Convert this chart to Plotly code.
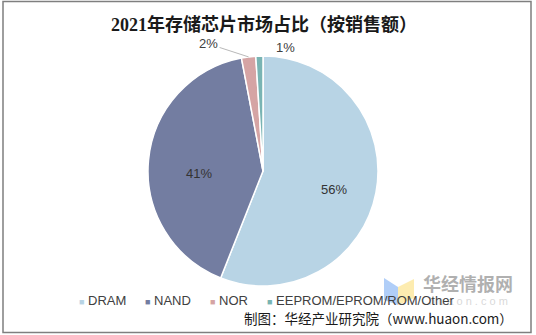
import math
import plotly.graph_objects as go

# ---- data ----
categories = ["DRAM", "NAND", "NOR", "EEPROM/EPROM/ROM/Other"]
shares = [56, 41, 2, 1]
colors = ["#B8D4E5", "#737DA1", "#D5A4A4", "#79B4B3"]
title_text = "2021年存储芯片市场占比（按销售额）"
source_text = "制图：华经产业研究院（www.huaon.com）"

W, H = 536, 335
cx, cy, r = 263, 171, 115  # pie centre/radius in px (from top-left)


def px(x, y):
    return x / W, 1 - y / H


fig = go.Figure()
total = sum(shares)
fig.add_trace(go.Pie(
    labels=categories,
    values=shares,
    sort=False,
    direction="clockwise",
    rotation=0,
    marker=dict(colors=colors, line=dict(color="white", width=1.5)),
    textinfo="none",
    domain=dict(x=[(cx - r) / W, (cx + r) / W], y=[1 - (cy + r) / H, 1 - (cy - r) / H]),
    showlegend=False,
    hoverinfo="label+percent",
))

annotations = []
shapes = []

# slice labels placed from the data (mid-angle of each slice)
# (radial fraction, angle tweak in degrees, text dx, text dy, leader line)
placement = [
    (0.64, 4, 0, 0, False),
    (0.56, -8, 0, 0, False),
    (1.0, 0, -40, -13, True),
    (1.0, 0, 26, -9, False),
]
cum = 0
for i, v in enumerate(shares):
    mid = (cum + v / 2) / total
    cum += v
    frac, dth, ax, ay, line = placement[i]
    th = 2 * math.pi * mid + math.radians(dth)
    ex = cx + frac * r * math.sin(th)
    ey = cy - frac * r * math.cos(th)
    x, y = px(ex, ey)
    if frac < 1:
        annotations.append(dict(
            x=x, y=y, xref="paper", yref="paper", text=f"{v}%", showarrow=False,
            xanchor="center", yanchor="middle",
            font=dict(family="Liberation Sans, Arial", size=13, color="#333333"),
        ))
    else:
        annotations.append(dict(
            x=x, y=y, xref="paper", yref="paper", text=f"{v}%",
            showarrow=True, ax=ax, ay=ay, arrowhead=0, arrowwidth=0.8,
            arrowcolor="#A6A6A6" if line else "rgba(0,0,0,0)",
            font=dict(family="Liberation Sans, Arial", size=13, color="#404040"),
        ))

# title
tx, ty = px(W / 2 - 4, 25)
annotations.append(dict(
    x=tx, y=ty, xref="paper", yref="paper", showarrow=False,
    text=f"<b>{title_text}</b>", xanchor="center", yanchor="middle",
    font=dict(family="Liberation Serif, Noto Sans CJK SC", size=18, color="#1a1a1a"),
))

# watermark
shapes.append(dict(type="path", xref="paper", yref="paper", layer="above",
                   path="M {} {} L {} {} L {} {} L {} {} Z".format(*px(384, 278), *px(398, 287), *px(398, 305), *px(384, 300)),
                   fillcolor="rgba(150,190,245,0.75)", line=dict(width=0)))
shapes.append(dict(type="path", xref="paper", yref="paper", layer="above",
                   path="M {} {} L {} {} L {} {} L {} {} Z".format(*px(398, 287), *px(414, 279), *px(414, 298), *px(398, 305)),
                   fillcolor="rgba(252,230,150,0.75)", line=dict(width=0)))
wx, wy = px(468, 283)
annotations.append(dict(x=wx, y=wy, xref="paper", yref="paper", showarrow=False,
                        text="<b>华经情报网</b>", xanchor="center", yanchor="middle",
                        font=dict(family="Noto Sans CJK SC", size=18, color="rgba(150,150,150,0.75)")))
wx2, wy2 = px(468, 301)
annotations.append(dict(x=wx2, y=wy2, xref="paper", yref="paper", showarrow=False,
                        text="h u a o n . c o m", xanchor="center", yanchor="middle",
                        font=dict(family="Liberation Sans, Arial", size=11, color="rgba(190,190,190,0.6)")))

# legend (manual, small square markers)
leg_x = [77, 143, 208, 265]
for i, name in enumerate(categories):
    lx, ly = px(leg_x[i], 300)
    annotations.append(dict(
        x=lx, y=ly, xref="paper", yref="paper", showarrow=False,
        xanchor="left", yanchor="middle",
        text=f"<span style='color:{colors[i]};font-size:9px'>■</span> {name}",
        font=dict(family="Liberation Sans, Arial", size=13, color="#404040"),
    ))

# source
sx, sy = px(515, 318)
annotations.append(dict(x=sx, y=sy, xref="paper", yref="paper", showarrow=False,
                        xanchor="right", yanchor="middle", text=source_text,
                        font=dict(family="Noto Sans CJK SC", size=13.5, color="#1a1a1a")))

# outer border
x0, y0 = px(3, 1.5)
x1, y1 = px(531, 332.5)
shapes.append(dict(type="rect", xref="paper", yref="paper", x0=x0, y0=y1, x1=x1, y1=y0,
                   line=dict(color="#7F7F7F", width=1.5), layer="above"))

fig.update_layout(
    width=W, height=H,
    margin=dict(l=0, r=0, t=0, b=0),
    paper_bgcolor="white", plot_bgcolor="white",
    annotations=annotations, shapes=shapes,
    showlegend=False,
)

fig.write_html("out.html")
